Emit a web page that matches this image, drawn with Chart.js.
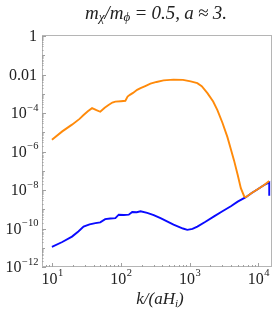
<!DOCTYPE html>
<html>
<head>
<meta charset="utf-8">
<script src="https://cdn.jsdelivr.net/npm/chart.js@4"></script>
<style>
  html, body { margin: 0; padding: 0; background: #fff; }
  #wrap { width: 273px; height: 314px; }
</style>
</head>
<body>
<div id="wrap"><canvas id="c" width="273" height="314"></canvas></div>
<script>
// values
const kOrange = [9.9, 14, 19.4, 25, 28.6, 33, 38, 44, 50, 58, 66, 75, 83, 100, 116, 125, 135, 150, 172, 193, 230, 269, 330, 417, 583, 800, 1035, 1294, 1500, 1815, 2200, 2535, 3000, 3548, 4000, 4436, 5000, 5560, 6210, 6580, 8000, 9770, 12000, 14400];
const logOrange = [-5.38, -4.95, -4.6, -4.3, -4.1, -3.9, -3.74, -3.85, -3.93, -3.72, -3.58, -3.45, -3.4, -3.38, -3.36, -3.14, -3.05, -2.95, -2.79, -2.7, -2.58, -2.47, -2.38, -2.3, -2.26, -2.27, -2.35, -2.44, -2.6, -2.96, -3.4, -3.84, -4.5, -5.25, -5.9, -6.47, -7.2, -7.9, -8.32, -8.37, -8.15, -7.96, -7.75, -7.53];

const kBlue = [9.9, 14, 19.4, 24, 28.6, 35, 42.5, 50, 59, 70, 83, 93, 110, 130, 146, 170, 193, 241, 300, 377, 583, 800, 925, 1100, 1294, 1700, 2266, 3000, 3981, 5000, 6580, 8000, 9770, 12000, 14400, 14400];
const logBlue = [-10.95, -10.7, -10.42, -10.15, -9.9, -9.78, -9.72, -9.68, -9.51, -9.48, -9.46, -9.28, -9.3, -9.28, -9.14, -9.15, -9.1, -9.19, -9.3, -9.46, -9.8, -10.0, -10.07, -10.02, -9.9, -9.65, -9.37, -9.1, -8.84, -8.6, -8.37, -8.15, -7.96, -7.75, -7.6, -8.3];

const yLabels = [[0, '1', ''], [-2, '0.01', ''], [-4, '10', '\u22124'], [-6, '10', '\u22126'], [-8, '10', '\u22128'], [-10, '10', '\u221210'], [-12, '10', '\u221212']];
const xLabels = [[1, '10', '1'], [2, '10', '2'], [3, '10', '3'], [4, '10', '4']];

const toPts = (ks, ls) => ks.map((k, i) => ({ x: k, y: Math.pow(10, ls[i]) }));

const serif = '"Liberation Serif", "DejaVu Serif", serif';

const framePlugin = {
    id: 'frame',
    afterDraw(chart) {
        const ctx = chart.ctx;
        const a = chart.chartArea;
        const xs = chart.scales.x, ys = chart.scales.y;
        ctx.save();
        ctx.strokeStyle = '#b5b5b5';
        ctx.lineWidth = 1;
        ctx.strokeRect(a.left + 0.5, a.top + 0.5, a.right - a.left - 1, a.bottom - a.top - 1);

        // y ticks
        ctx.strokeStyle = '#a0a0a0';
        ctx.beginPath();
        for (let d = -12; d <= 0; d++) {
            for (let m = 1; m <= 9; m++) {
                const v = m * Math.pow(10, d);
                if (v > ys.max || v < ys.min) continue;
                const py = Math.round(ys.getPixelForValue(v)) + 0.5;
                const len = m === 1 ? (d % 2 === 0 ? 4 : 3) : 1.5;
                ctx.moveTo(a.left, py);
                ctx.lineTo(a.left + len, py);
            }
        }
        // x ticks
        for (let d = 0; d <= 4; d++) {
            for (let m = 1; m <= 9; m++) {
                const v = m * Math.pow(10, d);
                if (v > xs.max || v < xs.min) continue;
                const px = Math.round(xs.getPixelForValue(v)) + 0.5;
                const len = m === 1 ? 4 : 2;
                ctx.moveTo(px, a.bottom);
                ctx.lineTo(px, a.bottom - len);
            }
        }
        ctx.stroke();

        ctx.fillStyle = '#222';
        ctx.textBaseline = 'middle';
        // y labels
        yLabels.forEach(([d, base, ex]) => {
            const py = ys.getPixelForValue(Math.pow(10, d));
            ctx.font = '16px ' + serif;
            const wb = ctx.measureText(base).width;
            ctx.font = '10.5px ' + serif;
            const we = ex ? ctx.measureText(ex).width + 0.5 : 0;
            const x0 = 37 - wb - we + (ex ? 1.5 : 0);
            ctx.font = '16px ' + serif;
            ctx.fillText(base, x0, py + 1);
            if (ex) {
                ctx.font = '10.5px ' + serif;
                ctx.fillText(ex, x0 + wb + 0.5, py - 5);
            }
        });
        // x labels
        xLabels.forEach(([d, base, ex]) => {
            const px = xs.getPixelForValue(Math.pow(10, d));
            ctx.font = '16px ' + serif;
            const wb = ctx.measureText(base).width;
            ctx.font = '10.5px ' + serif;
            const we = ctx.measureText(ex).width;
            const x0 = px - (wb + we) / 2;
            ctx.font = '16px ' + serif;
            ctx.fillText(base, x0, 280);
            ctx.font = '10.5px ' + serif;
            ctx.fillText(ex, x0 + wb + 0.5, 273);
        });

        // axis label k/(aH_i)
        const parts = [['k/(aH', 17, 0, 0], ['i', 11, 4, 0], [')', 17, 0, 0]];
        drawParts(ctx, parts, 160, 300, 50);
        // title
        const tparts = [['m', 19, 0, 0], ['\u03c7', 13, 4, 0], ['/m', 19, 0, 0], ['\u03d5', 13, 4, 0],
                        ['=', 19, 0, 1], ['0.5,', 19, 0, 1], ['a', 19, 0, 1], ['\u2248', 19, 0, 1], ['3.', 19, 0, 1]];
        drawParts(ctx, tparts, 156, 14, 142);
        ctx.restore();
    }
};

// parts: [text, size, dy, gapBefore]; extra width is shared by gap slots
function drawParts(ctx, parts, cx, cy, target) {
    let total = 0, gaps = 0;
    parts.forEach(([t, s, dy, g]) => { ctx.font = 'italic ' + s + 'px ' + serif; total += ctx.measureText(t).width; gaps += g; });
    const gap = gaps ? Math.max(0, (target - total) / gaps) : 0;
    const w = total + gap * gaps;
    let x = cx - w / 2;
    ctx.textBaseline = 'middle';
    parts.forEach(([t, s, dy, g]) => {
        ctx.font = 'italic ' + s + 'px ' + serif;
        x += g * gap;
        ctx.fillText(t, x, cy + dy);
        x += ctx.measureText(t).width;
    });
}

new Chart(document.getElementById('c'), {
    type: 'line',
    data: {
        datasets: [
            { data: toPts(kOrange, logOrange), borderColor: '#ff8a0a', borderWidth: 1.9, pointRadius: 0, tension: 0, order: 0 },
            { data: toPts(kBlue, logBlue), borderColor: '#0a0aff', borderWidth: 1.9, pointRadius: 0, tension: 0, order: 1 }
        ]
    },
    options: {
        responsive: false,
        animation: false,
        layout: { padding: { left: 42, right: 1, top: 35, bottom: 47 } },
        plugins: { legend: { display: false }, tooltip: { enabled: false } },
        scales: {
            x: { type: 'logarithmic', display: false, min: 7.1, max: 15800 },
            y: { type: 'logarithmic', display: false, min: 1e-12, max: 1.15 }
        }
    },
    plugins: [framePlugin]
});
</script>
</body>
</html>
